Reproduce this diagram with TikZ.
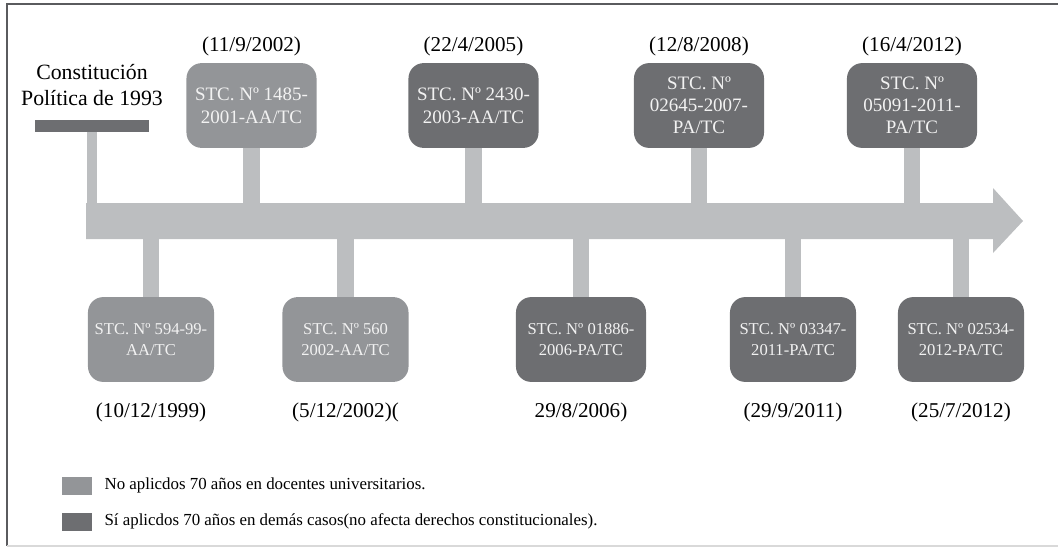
\documentclass[tikz,border=0pt]{standalone}
\usepackage{fontspec}
\setmainfont{Liberation Serif}
\usepackage{xcolor}
\usetikzlibrary{positioning}

\definecolor{lightbox}{HTML}{939598}
\definecolor{darkbox}{HTML}{6D6E71}
\definecolor{lineg}{HTML}{BCBEC0}
\definecolor{framec}{HTML}{5A5B5E}

\begin{document}
\begin{tikzpicture}[
    x=0.025cm, y=-0.025cm,
    case/.style   = {rectangle, rounded corners=0.38cm, minimum width=3.25cm,
                     minimum height=2.12cm, align=center, text=white!95!black,
                     font=\fontsize{13.5}{16.5}\selectfont, inner sep=2pt},
    lowcase/.style= {minimum width=3.15cm, font=\fontsize{11.8}{14.5}\selectfont},
    nofx/.style   = {case, fill=lightbox},
    yesfx/.style  = {case, fill=darkbox},
    date/.style   = {font=\fontsize{15}{18}\selectfont},
    stem/.style   = {draw=lineg, line width=0.41cm},
    key/.style    = {minimum width=0.75cm, minimum height=0.45cm, inner sep=0},
    keytext/.style= {inner sep=0, font=\fontsize{12}{14}\selectfont},
  ]
  \useasboundingbox (0,0) rectangle (1058,547);
  % frame
  \draw[framec, line width=0.9pt] (1058,4) -- (7,4) -- (7,546);
  \draw[black!15, line width=0.9pt] (7,546) -- (1058,546);

  % timeline arrow
  \fill[lineg] (86,203) -- (993,203) -- (993,188) -- (1023,221)
               -- (993,253) -- (993,239) -- (86,239) -- cycle;
  \coordinate (shafttop) at (0,203);
  \coordinate (shaftbot) at (0,239);

  % constitution
  \node[font=\fontsize{15.5}{18.5}\selectfont, align=center] (cpol) at (92,85)
        {Constitución\\Política de 1993};
  \node[fill=darkbox, minimum width=2.85cm, minimum height=0.3cm, inner sep=0]
        (cbar) at (92,126) {};

  % upper cases
  \node[nofx]  (u1) at (251.5,105.5) {STC. Nº 1485-\\2001-AA/TC};
  \node[yesfx] (u2) at (473.5,105.5) {STC. Nº 2430-\\2003-AA/TC};
  \node[yesfx, font=\fontsize{13.5}{15.5}\selectfont] (u3) at (699,105.5)
        {STC. Nº\\02645-2007-\\PA/TC};
  \node[yesfx, font=\fontsize{13.5}{15.5}\selectfont] (u4) at (912,105.5)
        {STC. Nº\\05091-2011-\\PA/TC};

  \node[date, above=1pt of u1] (du1) {(11/9/2002)};
  \node[date, above=1pt of u2] (du2) {(22/4/2005)};
  \node[date, above=1pt of u3] (du3) {(12/8/2008)};
  \node[date, above=1pt of u4] (du4) {(16/4/2012)};

  % lower cases
  \node[nofx,  lowcase] (l1) at (151,339.5) {STC. Nº 594-99-\\AA/TC};
  \node[nofx,  lowcase] (l2) at (345.5,339.5) {STC. Nº 560\\2002-AA/TC};
  \node[yesfx, lowcase, minimum width=3.25cm] (l3) at (581,339.5)
        {STC. Nº 01886-\\2006-PA/TC};
  \node[yesfx, lowcase] (l4) at (793,339.5) {STC. Nº 03347-\\2011-PA/TC};
  \node[yesfx, lowcase] (l5) at (961,339.5) {STC. Nº 02534-\\2012-PA/TC};

  \node[date, below=11pt of l1] (dl1) {(10/12/1999)};
  \node[date, below=11pt of l2] (dl2) {(5/12/2002)(};
  \node[date, below=11pt of l3] (dl3) {29/8/2006)};
  \node[date, below=11pt of l4] (dl4) {(29/9/2011)};
  \node[date, below=11pt of l5] (dl5) {(25/7/2012)};

  % stems
  \draw[stem, line width=0.27cm] (cbar.south) -- (cbar.south |- shaftbot);
  \foreach \c in {u1,u2,u3,u4}
    \draw[stem] (\c.south) -- (\c.south |- shaftbot);
  \foreach \c in {l1,l2,l3,l4,l5}
    \draw[stem] (\c.north) -- (\c.north |- shafttop);

  % legend
  \node[key, fill=lightbox] (k1) at (77,485.5) {};
  \node[keytext, right=0.3cm of k1] (k1t)
        {No aplicdos 70 años en docentes universitarios.};
  \node[key, fill=darkbox] (k2) at (77,521.5) {};
  \node[keytext, right=0.3cm of k2] (k2t)
        {Sí aplicdos 70 años en demás casos(no afecta derechos constitucionales).};
\end{tikzpicture}
\end{document}
